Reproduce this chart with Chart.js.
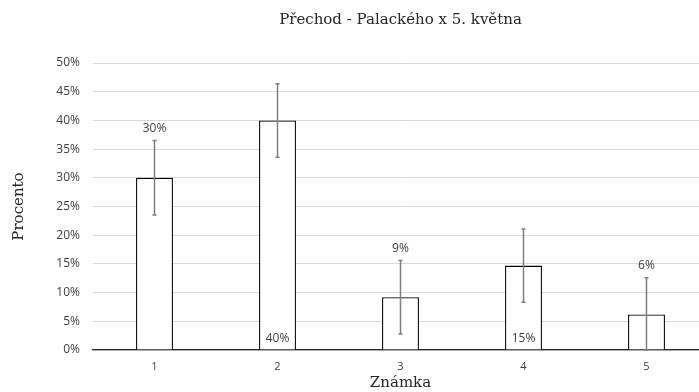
<!DOCTYPE html>
<html>
<head>
<meta charset="utf-8">
<script src="https://cdn.jsdelivr.net/npm/chart.js@4"></script>
<style>
  body { margin: 0; overflow: hidden; background: #fff; }
  canvas { display: block; }
</style>
</head>
<body>
<canvas id="chart" width="708" height="392"></canvas>
<script>
const grades = ["1", "2", "3", "4", "5"];
const percent = [30, 40, 9.2, 14.7, 6.2];
const errorSize = [6.5, 6.4, 6.4, 6.4, 6.4];
const valueLabels = ["30%", "40%", "9%", "15%", "6%"];
const yTicks = [0, 5, 10, 15, 20, 25, 30, 35, 40, 45, 50];

// where each value label sits: above the error bar or at the bar foot
const labelSpot = ["top", "base", "top", "base", "top"];

const serif = "'DejaVu Serif', serif";
const sans = "'Open Sans', sans-serif";

const errorBars = {
  id: "errorBars",
  afterDatasetsDraw(chart) {
    const ctx = chart.ctx;
    const y = chart.scales.y;
    const meta = chart.getDatasetMeta(0);
    ctx.save();
    ctx.strokeStyle = "#7f7f7f";
    ctx.lineWidth = 1.5;
    meta.data.forEach((bar, i) => {
      const top = y.getPixelForValue(percent[i] + errorSize[i]);
      const bottom = y.getPixelForValue(Math.max(0, percent[i] - errorSize[i]));
      ctx.beginPath();
      ctx.moveTo(bar.x, top);
      ctx.lineTo(bar.x, bottom);
      ctx.moveTo(bar.x - 2, top);
      ctx.lineTo(bar.x + 2, top);
      ctx.moveTo(bar.x - 2, bottom);
      ctx.lineTo(bar.x + 2, bottom);
      ctx.stroke();
    });

    ctx.fillStyle = "#404040";
    ctx.font = "12px " + sans;
    ctx.textAlign = "center";
    ctx.textBaseline = "middle";
    meta.data.forEach((bar, i) => {
      let ly;
      if (labelSpot[i] === "top") {
        ly = y.getPixelForValue(percent[i] + errorSize[i]) - 12;
      } else {
        ly = y.getPixelForValue(0) - 11;
      }
      ctx.fillText(valueLabels[i], bar.x, ly);
    });
    ctx.restore();
  }
};

new Chart(document.getElementById("chart"), {
  type: "bar",
  data: {
    labels: grades,
    datasets: [{
      data: percent,
      backgroundColor: "#ffffff",
      borderColor: "#000000",
      borderWidth: 1.3,
      categoryPercentage: 1,
      barPercentage: 0.30
    }]
  },
  options: {
    responsive: false,
    animation: false,
    layout: { padding: 0 },
    plugins: {
      legend: { display: false },
      tooltip: { enabled: false },
      title: {
        display: true,
        fullSize: false,
        text: "Přechod - Palackého x 5. května",
        color: "#262626",
        font: { family: serif, size: 15, weight: "normal" },
        padding: { top: 11, bottom: 34 }
      }
    },
    scales: {
      x: {
        grid: { display: false, drawTicks: false },
        border: { color: "#262626", width: 1.3 },
        ticks: { color: "#404040", font: { family: sans, size: 11 }, padding: 10 },
        title: {
          display: true,
          text: "Známka",
          color: "#262626",
          font: { family: serif, size: 15 },
          padding: { top: 1, bottom: 0 }
        },
        afterFit(scale) { scale.height = 42; }
      },
      y: {
        min: 0,
        max: 50,
        afterBuildTicks(scale) { scale.ticks = yTicks.map(v => ({ value: v })); },
        grid: { color: "#d9d9d9", drawTicks: false },
        border: { display: false },
        ticks: {
          color: "#404040",
          font: { family: sans, size: 12 },
          padding: 13,
          callback: v => v + "%"
        },
        title: {
          display: true,
          text: "Procento",
          color: "#262626",
          font: { family: serif, size: 15 },
          padding: { top: 10, bottom: 0 }
        },
        afterFit(scale) { scale.width = 93; }
      }
    }
  },
  plugins: [errorBars]
});
</script>
</body>
</html>
